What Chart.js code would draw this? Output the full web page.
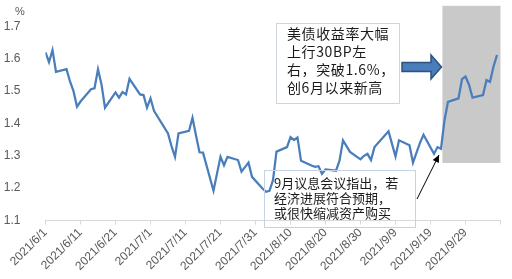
<!DOCTYPE html>
<html><head><meta charset="utf-8">
<script src="https://cdn.jsdelivr.net/npm/chart.js@4/dist/chart.umd.min.js"></script>
<style>
html,body{margin:0;padding:0;background:#fff;}
#wrap{position:relative;width:512px;height:279px;overflow:hidden;}
canvas{position:absolute;left:0;top:0;}
.note{position:absolute;box-sizing:border-box;font-family:"Noto Sans CJK SC",sans-serif;color:#1a1a1a;white-space:nowrap;}
#n1{left:276px;top:23px;width:124px;height:81px;border:1px solid #cfd6e2;font-size:14px;line-height:18px;padding:0 0 0 10px;letter-spacing:0.6px;}
#n2{left:264px;top:170px;width:152px;height:58px;border:1px solid #c5d3e8;font-size:13px;line-height:15px;padding:4px 0 0 9px;}
#pct{position:absolute;left:15px;top:5px;font-family:"Liberation Sans",sans-serif;font-size:11px;color:#595959;}
</style></head><body>
<div id="wrap"><canvas id="c" width="512" height="279"></canvas>
<div id="pct">%</div>
<div class="note" id="n1">美债收益率大幅<br>上行30BP左<br>右，突破1.6%，<br>创6月以来新高</div>
<div class="note" id="n2">9月议息会议指出，若<br>经济进展符合预期，<br>或很快缩减资产购买</div>
</div>
<script>
// Trading dates (2021) and US 10Y Treasury yield (%)
const dates = ['6/1','6/2','6/3','6/4','6/7','6/8','6/9','6/10','6/11','6/14','6/15','6/16','6/17','6/18','6/21','6/22','6/23','6/24','6/25','6/28','6/29','6/30',
'7/1','7/2','7/6','7/7','7/8','7/9','7/12','7/13','7/14','7/15','7/16','7/19','7/20','7/21','7/22','7/23','7/26','7/27','7/28','7/29','7/30',
'8/2','8/3','8/4','8/5','8/6','8/9','8/10','8/11','8/12','8/13','8/16','8/17','8/18','8/19','8/20','8/23','8/24','8/25','8/26','8/27','8/30','8/31',
'9/1','9/2','9/3','9/7','9/8','9/9','9/10','9/13','9/14','9/15','9/16','9/17','9/20','9/21','9/22','9/23','9/24','9/27','9/28','9/29','9/30',
'10/1','10/4','10/5','10/6','10/7','10/8'];
const yields = [1.62,1.59,1.627,1.56,1.568,1.53,1.50,1.452,1.468,1.506,1.509,1.568,1.521,1.449,1.496,1.48,1.497,1.49,1.538,1.49,1.488,1.449,
1.478,1.439,1.369,1.33,1.297,1.369,1.377,1.418,1.363,1.311,1.31,1.192,1.245,1.297,1.271,1.297,1.287,1.251,1.265,1.279,1.235,
1.199,1.189,1.192,1.225,1.313,1.327,1.358,1.349,1.357,1.285,1.27,1.266,1.268,1.244,1.258,1.254,1.285,1.348,1.33,1.312,1.289,1.30,
1.306,1.287,1.327,1.376,1.337,1.298,1.348,1.333,1.279,1.31,1.34,1.365,1.306,1.327,1.322,1.41,1.467,1.478,1.537,1.545,1.52,
1.48,1.488,1.534,1.529,1.576,1.612];
const tickLabels = ['2021/6/1','2021/6/11','2021/6/21','2021/7/1','2021/7/11','2021/7/21','2021/7/31','2021/8/10','2021/8/20','2021/8/30','2021/9/9','2021/9/19','2021/9/29'];
const yTicks = [1.1,1.2,1.3,1.4,1.5,1.6,1.7];
// shaded window: from 9/22 to axis end (days since 6/1), yield range
const shadeDays = [113.4, 130];
const shadeYield = [1.278, 1.764];

const base = Date.UTC(2021,5,1);
function dayIndex(s){const [m,d]=s.split('/').map(Number);return (Date.UTC(2021,m-1,d)-base)/86400000;}
const points = dates.map((s,i)=>({x:dayIndex(s), y:yields[i]}));

const annot = {
  id:'annot',
  beforeDatasetsDraw(chart){
    const {ctx, scales:{x,y}} = chart;
    const l=x.getPixelForValue(shadeDays[0]), r=x.getPixelForValue(shadeDays[1]);
    const t=y.getPixelForValue(shadeYield[1]), b=y.getPixelForValue(shadeYield[0]);
    ctx.save(); ctx.fillStyle='#c9c9c9'; ctx.fillRect(l,t,r-l,b-t); ctx.restore();
  },
  afterDatasetsDraw(chart){
    const ctx = chart.ctx;
    ctx.save();
    // block arrow
    ctx.beginPath();
    ctx.moveTo(402,62.5); ctx.lineTo(431,62.5); ctx.lineTo(431,55); ctx.lineTo(441.5,67);
    ctx.lineTo(431,79); ctx.lineTo(431,71.5); ctx.lineTo(402,71.5); ctx.closePath();
    ctx.fillStyle='#4a7ebb'; ctx.fill();
    ctx.lineWidth=1.5; ctx.strokeStyle='#2c5282'; ctx.stroke();
    // thin arrow
    const x0=417,y0=199,x1=439,y1=155;
    ctx.beginPath(); ctx.moveTo(x0,y0); ctx.lineTo(x1,y1);
    ctx.lineWidth=1; ctx.strokeStyle='#000'; ctx.stroke();
    const a=Math.atan2(y1-y0,x1-x0), L=8, w=0.45;
    ctx.beginPath(); ctx.moveTo(x1,y1);
    ctx.lineTo(x1-L*Math.cos(a-w), y1-L*Math.sin(a-w));
    ctx.lineTo(x1-L*Math.cos(a+w), y1-L*Math.sin(a+w));
    ctx.closePath(); ctx.fillStyle='#000'; ctx.fill();
    ctx.restore();
  }
};

new Chart(document.getElementById('c'), {
  type:'line',
  data:{datasets:[{data:points, borderColor:'#4a7ebb', borderWidth:2.25, pointRadius:0, tension:0, fill:false}]},
  options:{
    responsive:false, animation:false, devicePixelRatio:1,
    layout:{padding:{left:0,right:11.5,top:26.5,bottom:0}},
    plugins:{legend:{display:false}, tooltip:{enabled:false}},
    scales:{
      x:{type:'linear', min:0, max:130,
        afterFit(s){s.height=58.5;},
        grid:{display:true, drawOnChartArea:false, drawTicks:true, tickLength:4, color:'#d9d9d9'},
        border:{display:true, color:'#d9d9d9', width:1},
        ticks:{stepSize:10, autoSkip:false, maxRotation:45, minRotation:45, padding:1, color:'#595959',
          font:{family:'Liberation Sans', size:12}, callback:(v)=>tickLabels[Math.round(v/10)] ?? ''}},
      y:{min:yTicks[0], max:yTicks[yTicks.length-1],
        afterFit(s){s.width=45.5;},
        afterBuildTicks(s){s.ticks=yTicks.map(v=>({value:v}));},
        grid:{display:false}, border:{display:false},
        ticks:{padding:17, color:'#595959', font:{family:'Liberation Sans', size:12}, callback:v=>Number(v).toFixed(1)}}
    }
  },
  plugins:[annot]
});
</script>
</body></html>
